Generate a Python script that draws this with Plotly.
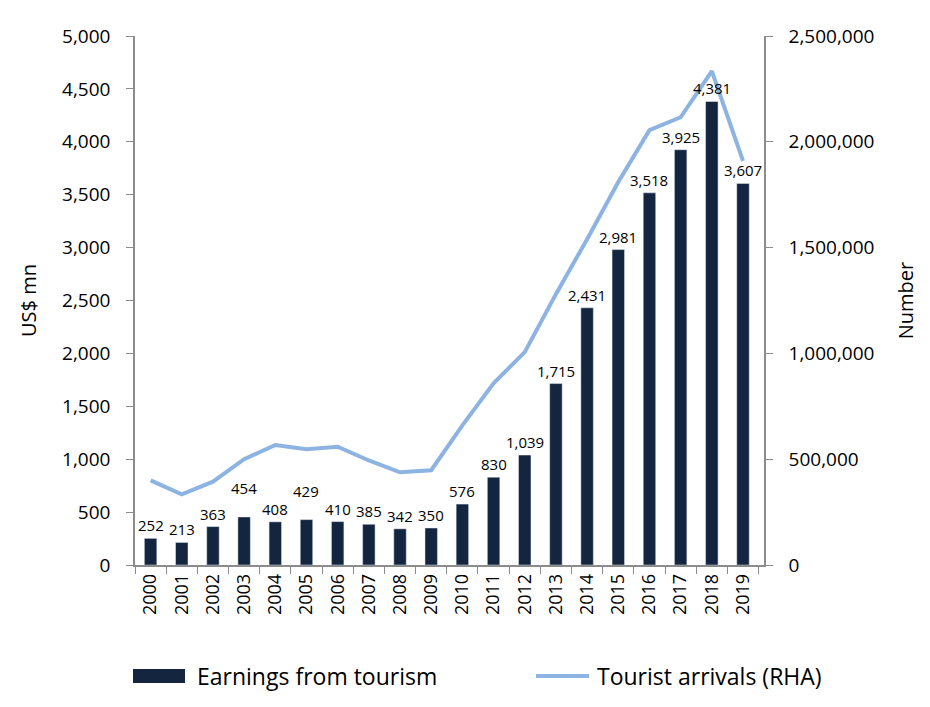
import plotly.graph_objects as go

years = [str(y) for y in range(2000, 2020)]
earnings = [252, 213, 363, 454, 408, 429, 410, 385, 342, 350,
            576, 830, 1039, 1715, 2431, 2981, 3518, 3925, 4381, 3607]
arrivals = [400000, 334000, 394000, 500000, 567000, 547000, 559000, 494000, 438000, 448000,
            660000, 859000, 1006000, 1280000, 1540000, 1810000, 2055000, 2116000, 2334000, 1910000]

left_ticks = list(range(0, 5001, 500))
right_ticks = list(range(0, 2500001, 500000))

FONT = 'Open Sans, Noto Sans, sans-serif'
AXIS_GREY = '#8c8c8c'
BAR_COLOR = '#13253f'
LINE_COLOR = '#8db3e2'

# labels nudged up in the original to clear the line
label_lift = {'2003': 16, '2005': 16}

# figure size and plot area in pixels (page has an 8px body margin)
W, H = 922, 699
L, R, T, B = 127, 756, 28, 557


def px(x):
    return (x - L) / (R - L)


def py(y):
    return (B - y) / (B - T)


fig = go.Figure()

fig.add_trace(
    go.Bar(
        x=years,
        y=earnings,
        name='Earnings from tourism',
        marker=dict(color=BAR_COLOR),
        width=0.4,
    )
)

fig.add_trace(
    go.Scatter(
        x=years,
        y=arrivals,
        name='Tourist arrivals (RHA)',
        mode='lines',
        line=dict(color=LINE_COLOR, width=4),
        yaxis='y2',
    )
)

# category axis: annotations are placed by category index
for i, (yr, v) in enumerate(zip(years, earnings)):
    fig.add_annotation(
        x=i, y=v, xref='x', yref='y',
        text=f'{v:,}', showarrow=False,
        yanchor='bottom', yshift=1 + label_lift.get(yr, 0),
        font=dict(size=15, color='#000000'),
    )

axis_common = dict(
    showline=True,
    linecolor=AXIS_GREY,
    linewidth=1.5,
    ticks='outside',
    ticklen=7,
    tickcolor=AXIS_GREY,
    showgrid=False,
    automargin=False,
)

fig.update_layout(
    width=W,
    height=H,
    paper_bgcolor='white',
    plot_bgcolor='white',
    font=dict(family=FONT, size=16, color='#000000'),
    margin=dict(l=L, r=W - R, t=T, b=H - B),
    showlegend=False,
    xaxis=dict(
        type='category',
        tickangle=-90,
        tickfont=dict(size=18),
        tickson='boundaries',
        **axis_common,
    ),
    yaxis=dict(
        title=dict(text='US$ mn', font=dict(size=20), standoff=20),
        range=[0, 5000],
        tickvals=left_ticks,
        tickformat=',',
        tickfont=dict(size=19),
        ticklabelstandoff=12,
        zeroline=False,
        **axis_common,
    ),
    yaxis2=dict(
        title=dict(text='Number', font=dict(size=20), standoff=26),
        overlaying='y',
        side='right',
        range=[0, 2500000],
        tickvals=right_ticks,
        tickformat=',',
        tickfont=dict(size=19),
        ticklabelstandoff=12,
        zeroline=False,
        **axis_common,
    ),
)

# legend drawn by hand to get the wide swatches
fig.add_shape(type='rect', xref='paper', yref='paper',
              x0=px(125), x1=px(177), y0=py(675), y1=py(661),
              fillcolor=BAR_COLOR, line=dict(width=0))
fig.add_shape(type='line', xref='paper', yref='paper',
              x0=px(528), x1=px(581), y0=py(668), y1=py(668),
              line=dict(color=LINE_COLOR, width=4))
fig.add_annotation(xref='paper', yref='paper', x=px(187), y=py(668),
                   text='Earnings from tourism', showarrow=False,
                   xanchor='left', yanchor='middle', font=dict(size=23))
fig.add_annotation(xref='paper', yref='paper', x=px(587), y=py(668),
                   text='Tourist arrivals (RHA)', showarrow=False,
                   xanchor='left', yanchor='middle', font=dict(size=23))

fig.write_html('out.html')
